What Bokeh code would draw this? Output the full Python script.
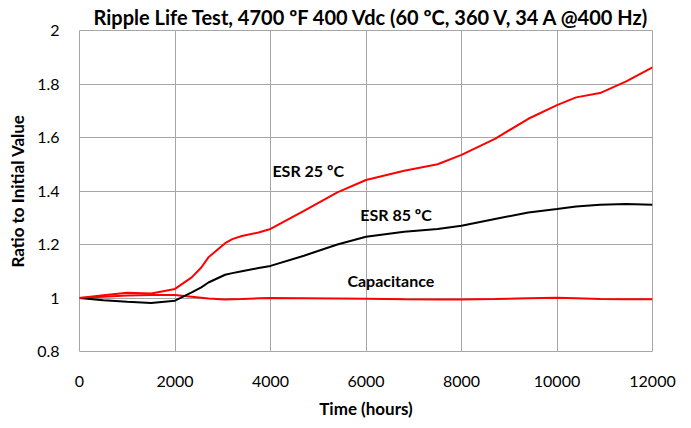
from bokeh.plotting import figure
from bokeh.models import Range1d, FixedTicker, Label
from bokeh.embed import file_html
from bokeh.resources import INLINE

# ---- data ----
hours = [0, 500, 1000, 1500, 2000, 2350, 2550, 2700, 3050, 3200, 3400, 3750, 4000, 4700,
         5400, 6000, 6800, 7500, 8000, 8700, 9400, 10000, 10400, 10900, 11450, 12000]
esr_25 = [1.0, 1.01, 1.02, 1.017, 1.034, 1.077, 1.114, 1.152, 1.205, 1.22, 1.232, 1.245, 1.258, 1.326,
          1.395, 1.441, 1.476, 1.50, 1.535, 1.595, 1.67, 1.721, 1.75, 1.766, 1.81, 1.862]
esr_85 = [1.0, 0.992, 0.986, 0.981, 0.99, 1.021, 1.04, 1.058, 1.087, 1.093, 1.10, 1.112, 1.12, 1.158,
          1.20, 1.229, 1.248, 1.258, 1.27, 1.295, 1.32, 1.333, 1.342, 1.349, 1.351, 1.349]
capacitance = [1.0, 1.005, 1.009, 1.011, 1.011, 1.005, 1.001, 0.998, 0.994, 0.995, 0.996, 0.999, 1.0, 0.999,
               0.998, 0.997, 0.995, 0.994, 0.994, 0.996, 0.999, 1.001, 0.999, 0.996, 0.995, 0.995]

x_ticks = [0, 2000, 4000, 6000, 8000, 10000, 12000]
y_ticks = [0.8, 1.0, 1.2, 1.4, 1.6, 1.8, 2.0]
y_tick_labels = {0.8: "0.8", 1.0: "1", 1.2: "1.2", 1.4: "1.4", 1.6: "1.6", 1.8: "1.8", 2.0: "2"}

labels = [
    ("ESR 25 ºC", 4040, 1.475),
    ("ESR 85 ºC", 5880, 1.314),
    ("Capacitance", 5610, 1.064),
]

title_text = "Ripple Life Test, 4700 ºF 400 Vdc (60 ºC, 360 V, 34 A @400 Hz)"

FONT = "Lato"
GRID = "#a6a6a6"

p = figure(width=691, height=428, output_backend="svg", toolbar_location=None,
           x_range=Range1d(0, 12000), y_range=Range1d(0.8, 2.0),
           min_border_left=79, min_border_right=39, min_border_top=30, min_border_bottom=77)

p.title.text = title_text
p.title.text_font = FONT
p.title.text_font_size = "20px"
p.title.text_font_style = "bold"
p.title.text_color = "black"
p.title.align = "left"
p.title.offset = 14
p.title.standoff = 4

p.background_fill_color = "white"
p.outline_line_color = GRID
p.outline_line_width = 1

p.xaxis.ticker = FixedTicker(ticks=x_ticks)
p.yaxis.ticker = FixedTicker(ticks=y_ticks)
p.yaxis.major_label_overrides = y_tick_labels
for ax in (p.xaxis[0], p.yaxis[0]):
    ax.axis_line_color = None
    ax.major_tick_line_color = None
    ax.minor_tick_line_color = None
    ax.major_label_text_font = FONT
    ax.major_label_text_font_size = "16px"
    ax.major_label_text_color = "black"
    ax.axis_label_text_font = FONT
    ax.axis_label_text_font_size = "17px"
    ax.axis_label_text_font_style = "bold"
    ax.axis_label_text_color = "black"
p.xaxis.major_label_standoff = 18
p.yaxis.major_label_standoff = 14
p.xaxis.axis_label = "Time (hours)"
p.yaxis.axis_label = "Ratio to Initial Value"
p.xaxis.axis_label_standoff = 8
p.yaxis.axis_label_standoff = 6

p.xgrid.grid_line_color = GRID
p.ygrid.grid_line_color = GRID
p.xgrid.grid_line_width = 1
p.ygrid.grid_line_width = 1

p.line(hours, capacitance, line_color="#ff0000", line_width=2)
p.line(hours, esr_85, line_color="black", line_width=2)
p.line(hours, esr_25, line_color="#ff0000", line_width=2)

for txt, x, y in labels:
    p.add_layout(Label(x=x, y=y, text=txt, text_font=FONT, text_font_size="16px",
                       text_font_style="bold", text_baseline="middle", text_align="left",
                       text_color="black"))

open("out.html", "w").write(file_html(p, INLINE))
